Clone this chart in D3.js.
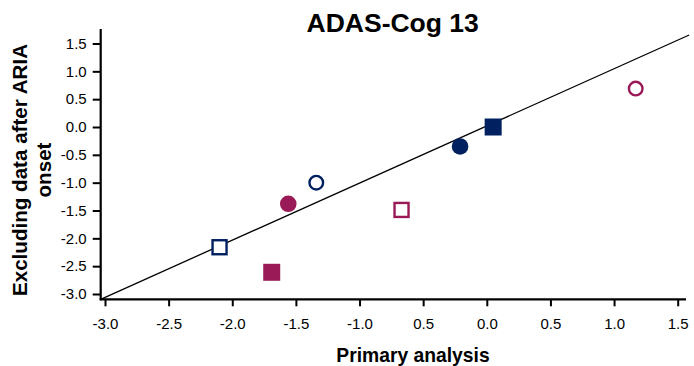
<!DOCTYPE html>
<html>
<head>
<meta charset="utf-8">
<script src="https://cdn.jsdelivr.net/npm/d3@7"></script>
<style>
  html, body { margin: 0; padding: 0; background: #fff; }
  svg { display: block; font-family: "Liberation Sans", Arial, sans-serif; }
</style>
</head>
<body>
<svg id="chart" width="694" height="366"></svg>
<script>
// Treatment-group estimates: primary analysis vs. excluding data after ARIA onset
const primaryAnalysis = [-2.10, -1.69, -1.56, -1.34, -0.67, -0.21, 0.05, 1.17];
const excludingAria   = [-2.16, -2.61, -1.38, -1.00, -1.49, -0.35, 0.00, 0.69];
const markerShape     = ["square", "square", "circle", "circle", "square", "circle", "square", "circle"];
const markerFilled    = [false, true, true, false, false, true, true, false];
const markerGroup     = ["navy", "magenta", "magenta", "navy", "magenta", "navy", "navy", "magenta"];

// Axis ticks and their printed labels
const xTicks      = [-3.0, -2.5, -2.0, -1.5, -1.0, -0.5, 0.0, 0.5, 1.0, 1.5];
const xTickLabels = ["-3.0", "-2.5", "-2.0", "-1.5", "-1.0", "0.5", "0.0", "0.5", "1.0", "1.5"];
const yTicks      = [1.5, 1.0, 0.5, 0.0, -0.5, -1.0, -1.5, -2.0, -2.5, -3.0];
const yTickLabels = ["1.5", "1.0", "0.5", "0.0", "-0.5", "-1.0", "-1.5", "-2.0", "-2.5", "-3.0"];

// Line of equality drawn across the plotting area
const refLineX = [-3.034, 1.59];
const refLineY = [-3.095, 1.653];

const colours = { navy: "#002060", magenta: "#991a57" };

const svg = d3.select("#chart");

const x = d3.scaleLinear().domain([-3, 1.5]).range([105, 677.7]);
const y = d3.scaleLinear().domain([-3, 1.5]).range([294, 43.5]);

const axisLeftX = x.invert(100.7);
const axisBottomY = y.invert(299.3);

// Title
svg.append("text")
  .attr("x", 392.7).attr("y", 32.3)
  .attr("text-anchor", "middle")
  .attr("font-size", 26.5).attr("font-weight", "bold")
  .attr("fill", "#000")
  .text("ADAS-Cog 13");

// Reference line
svg.append("line")
  .attr("x1", x(refLineX[0])).attr("y1", y(refLineY[0]))
  .attr("x2", x(refLineX[1])).attr("y2", y(refLineY[1]))
  .attr("stroke", "#000").attr("stroke-width", 1.3);

// Y axis
const yAxis = d3.axisLeft(y)
  .tickValues(yTicks)
  .tickFormat((d, i) => yTickLabels[i])
  .tickSize(8).tickPadding(6).tickSizeOuter(0);
const gy = svg.append("g")
  .attr("transform", `translate(${x(axisLeftX)},0)`)
  .call(yAxis);
gy.select(".domain").remove();
gy.selectAll(".tick line").attr("stroke", "#000").attr("stroke-width", 2);
gy.selectAll(".tick text")
  .attr("font-size", 15).attr("fill", "#000")
  .attr("font-family", "Liberation Sans, Arial, sans-serif");
gy.append("line")
  .attr("x1", 0).attr("x2", 0)
  .attr("y1", 29).attr("y2", y(axisBottomY) + 1)
  .attr("stroke", "#000").attr("stroke-width", 2.2);

// X axis
const xAxis = d3.axisBottom(x)
  .tickValues(xTicks)
  .tickFormat((d, i) => xTickLabels[i])
  .tickSize(7).tickPadding(12).tickSizeOuter(0);
const gx = svg.append("g")
  .attr("transform", `translate(0,${y(axisBottomY)})`)
  .call(xAxis);
gx.select(".domain").remove();
gx.selectAll(".tick line").attr("stroke", "#000").attr("stroke-width", 2);
gx.selectAll(".tick text")
  .attr("font-size", 15).attr("fill", "#000")
  .attr("font-family", "Liberation Sans, Arial, sans-serif");
gx.append("line")
  .attr("x1", x(axisLeftX) - 1).attr("x2", 686)
  .attr("y1", 0).attr("y2", 0)
  .attr("stroke", "#000").attr("stroke-width", 2.2);

// Axis titles
svg.append("text")
  .attr("x", 413).attr("y", 361.7)
  .attr("text-anchor", "middle")
  .attr("font-size", 19.3).attr("font-weight", "bold")
  .text("Primary analysis");

const yTitle = svg.append("text")
  .attr("transform", "translate(26.5,170) rotate(-90)")
  .attr("text-anchor", "middle")
  .attr("font-size", 20.6).attr("font-weight", "bold");
yTitle.append("tspan").attr("x", 0).attr("dy", 0).text("Excluding data after ARIA");
yTitle.append("tspan").attr("x", 0).attr("dy", 24).text("onset");

// Markers
const points = primaryAnalysis.map((px, i) => ({
  px, py: excludingAria[i], shape: markerShape[i], filled: markerFilled[i], group: markerGroup[i]
}));

const gPts = svg.append("g");
points.forEach(p => {
  const cx = x(p.px), cy = y(p.py);
  const c = colours[p.group];
  if (p.shape === "square") {
    const s = p.filled ? 17 : 14;
    gPts.append("rect")
      .attr("x", cx - s / 2).attr("y", cy - s / 2)
      .attr("width", s).attr("height", s)
      .attr("fill", p.filled ? c : "#fff")
      .attr("stroke", p.filled ? "none" : c)
      .attr("stroke-width", 2.4);
  } else {
    const r = p.filled ? 8.3 : 6.8;
    gPts.append("circle")
      .attr("cx", cx).attr("cy", cy).attr("r", r)
      .attr("fill", p.filled ? c : "#fff")
      .attr("stroke", p.filled ? "none" : c)
      .attr("stroke-width", 2.4);
  }
});
</script>
</body>
</html>
